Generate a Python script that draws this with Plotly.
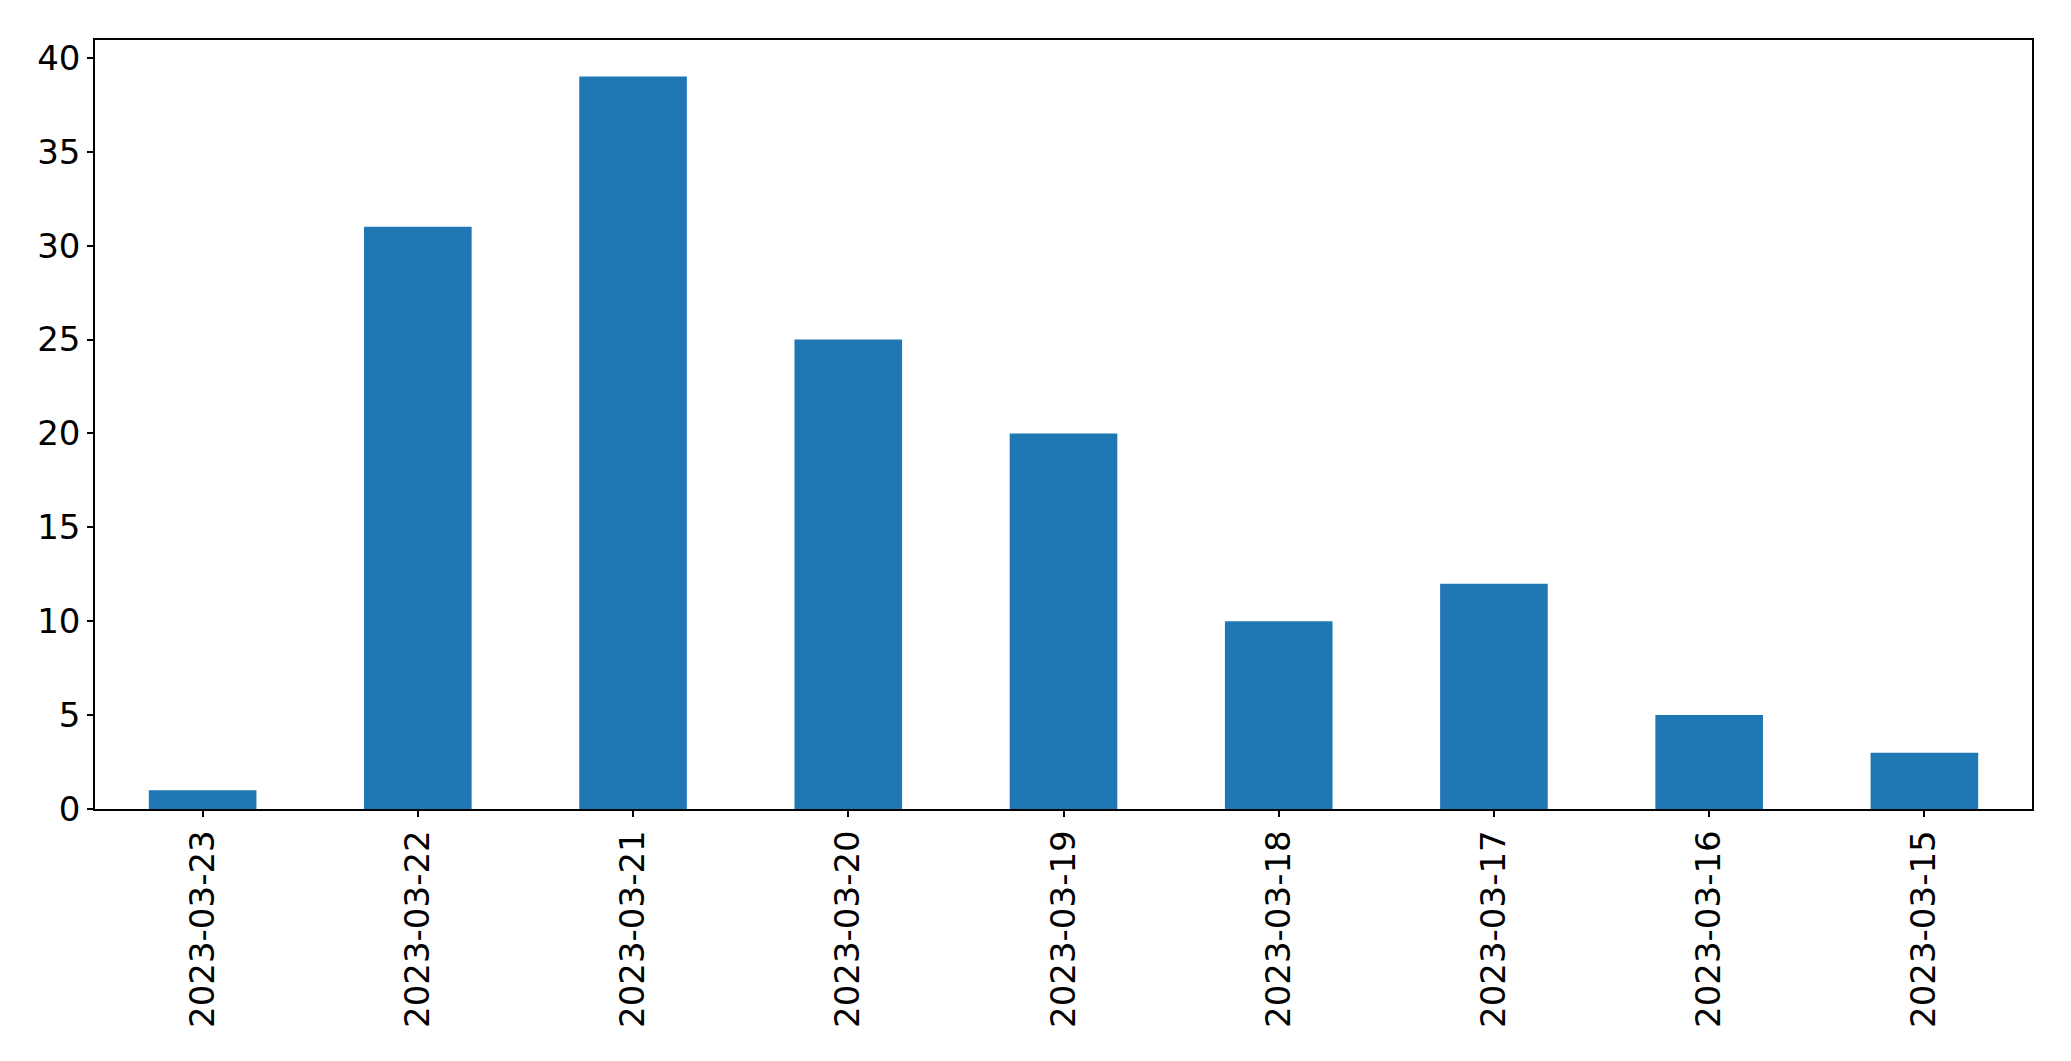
import plotly.graph_objects as go

dates = ["2023-03-23", "2023-03-22", "2023-03-21", "2023-03-20", "2023-03-19",
         "2023-03-18", "2023-03-17", "2023-03-16", "2023-03-15"]
counts = [1, 31, 39, 25, 20, 10, 12, 5, 3]
y_ticks = [0, 5, 10, 15, 20, 25, 30, 35, 40]

fig = go.Figure(go.Bar(x=dates, y=counts, marker_color="#1f77b4",
                       marker_line_width=0, width=0.5))

fig.update_layout(
    width=2063, height=1053,
    margin=dict(l=87, r=39, t=32, b=252, autoexpand=False),
    paper_bgcolor="white", plot_bgcolor="white",
    font=dict(family="DejaVu Sans", size=34, color="black"),
    showlegend=False,
)
fig.update_xaxes(type="category", range=[-0.5, 8.5], tickangle=-90,
                 showline=True, linecolor="black", linewidth=1.5, mirror=True,
                 ticks="outside", ticklen=6, tickcolor="black", tickwidth=1.5,
                 showgrid=False, zeroline=False)
fig.update_yaxes(range=[0, 40.95], tickvals=y_ticks,
                 showline=True, linecolor="black", linewidth=1.5, mirror=True,
                 ticks="outside", ticklen=6, tickcolor="black", tickwidth=1.5,
                 showgrid=False, zeroline=False)

fig.write_html("out.html")
